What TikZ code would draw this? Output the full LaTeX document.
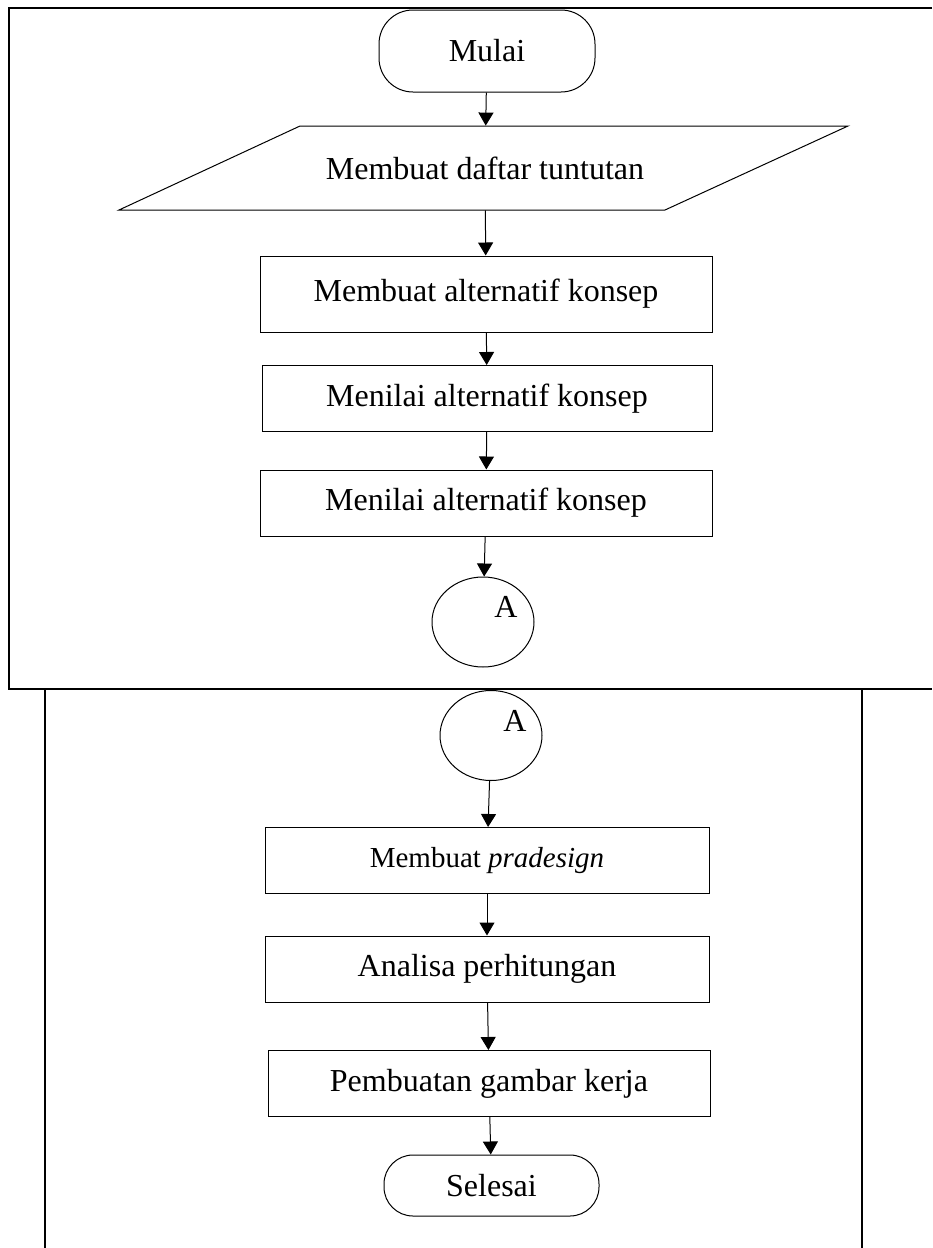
\documentclass[tikz,border=0pt]{standalone}
\usepackage{fontspec}
\setmainfont{Liberation Serif}
\usetikzlibrary{arrows.meta,shapes.geometric}

\tikzset{
   kotak/.style={draw, line width=0.5pt, minimum height=33pt, inner sep=0pt},
   terminal/.style={draw, line width=0.5pt, rounded corners=14.5pt, inner sep=0pt},
   konektor/.style={draw, ellipse, line width=0.5pt, minimum width=51pt, minimum height=45pt, inner sep=0pt},
   panah/.style={line width=0.5pt, -{Triangle[length=6.5pt,width=7.5pt]}},
   bingkai/.style={line width=0.6pt}
}

\begin{document}
\begin{tikzpicture}[x=0.5pt, y=-0.5pt, font=\fontsize{16}{19}\selectfont]

   \useasboundingbox (0,0) rectangle (932,1248);

   \draw[bingkai] (932,8) -- (9,8) -- (9,689) -- (932,689);
   \draw[bingkai] (45,1248) -- (45,689) -- (862,689) -- (862,1248);

   \node[terminal, rounded corners=17pt, minimum width=108pt, minimum height=41pt] (mulai) at (487,51) {Mulai};

   \draw[line width=0.5pt] (300,126) -- (848,126) -- (665,210) -- (119,210) -- cycle;
   \node[minimum height=42pt] (daftar) at (485,168) {Membuat daftar tuntutan};

   \node[kotak, minimum width=226pt, minimum height=38pt] (k1) at (486,294) {Membuat alternatif konsep};
   \node[kotak, minimum width=225pt] (k2) at (487,398.5) {Menilai alternatif konsep};
   \node[kotak, minimum width=226pt] (k3) at (486,503) {Menilai alternatif konsep};

   \node[konektor] (a1) at (483,622) {};
   \node (a1t) at ([shift={(23,-15)}]a1.center) {A};

   \node[konektor] (a2) at (491,735.5) {};
   \node (a2t) at ([shift={(24,-14.5)}]a2.center) {A};

   \node[kotak, minimum width=222pt, font=\fontsize{14.5}{17}\selectfont] (p1) at (487,860.5) {Membuat \textit{pradesign}};
   \node[kotak, minimum width=222pt] (p2) at (487,969) {Analisa perhitungan};
   \node[kotak, minimum width=221pt] (p3) at (489,1083.5) {Pembuatan gambar kerja};

   \node[terminal, minimum width=107.5pt, minimum height=30.5pt] (selesai) at (491.5,1185.5) {Selesai};

   \foreach \dari/\ke in {mulai/daftar, daftar/k1, k1/k2, k2/k3, k3/a1, a2/p1, p1/p2, p2/p3, p3/selesai}
   {
      \draw[panah] (\dari) -- (\ke);
   }
\end{tikzpicture}
\end{document}
